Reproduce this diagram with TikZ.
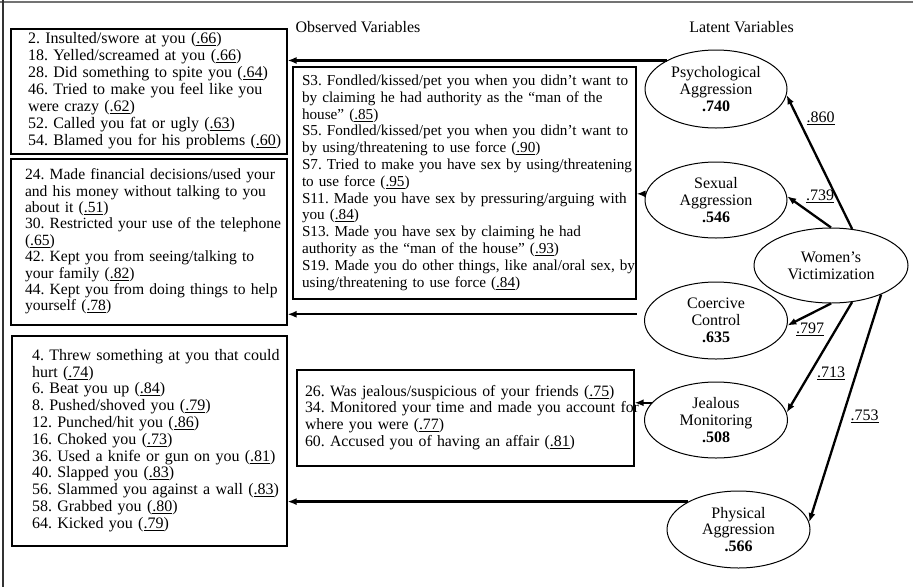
\documentclass[tikz,border=0pt]{standalone}
\usepackage{fontspec}
\setmainfont{Liberation Serif}
\usetikzlibrary{shapes.geometric,arrows.meta}
\frenchspacing

\newcommand{\ldg}[1]{(\underline{#1})}

\tikzset{
  estilo sem/.style={
      x=1pt, y=-1pt,
      obsbox/.style={rectangle, draw, line width=1.1pt, align=left, inner ysep=0pt},
      latente/.style={ellipse, draw, line width=1pt, inner sep=0pt, align=center},
      carga/.style={-{Latex[length=9pt,width=7pt]}, line width=2.3pt},
      every node/.style={font={\fontsize{16}{16.8}\selectfont}},
    },
}

\begin{document}
\begin{tikzpicture}[estilo sem]
  \useasboundingbox (0,0) rectangle (913,587);
  \draw[black!55, line width=2pt] (0,2) -- (913,2);
  \draw[black!80, line width=1.5pt] (3,0) -- (3,587);

  \node (obs) at (358,27) {Observed Variables};
  \node (lat) at (741.5,27) {Latent Variables};

  \node[latente, minimum width=142pt, minimum height=78pt] (psy) at (716,89) {Psychological\\Aggression\\\textbf{.740}};
  \node[latente, minimum width=142pt, minimum height=76pt] (sex) at (716,200) {Sexual\\Aggression\\\textbf{.546}};
  \node[latente, minimum width=154pt, minimum height=75pt] (vic) at (831,265.5) {Women’s\\Victimization};
  \node[latente, minimum width=143pt, minimum height=77pt] (coe) at (716,320.5) {Coercive\\Control\\\textbf{.635}};
  \node[latente, minimum width=143pt, minimum height=76pt] (jea) at (716,420) {Jealous\\Monitoring\\\textbf{.508}};
  \node[latente, minimum width=143pt, minimum height=77pt] (phy) at (738.5,529.5) {Physical\\Aggression\\\textbf{.566}};

  \node[obsbox, minimum height=125pt, text width=242pt, inner xsep=17pt, font={\fontsize{16}{17}\selectfont}] (psybox) at (149,91.5) {\noindent\begin{tabular}{@{}l@{}}
    2. Insulted/swore at you \ldg{.66}\\
    18. Yelled/screamed at you \ldg{.66}\\
    28. Did something to spite you \ldg{.64}\\
    46. Tried to make you feel like you\\
    were crazy \ldg{.62}\\
    52. Called you fat or ugly \ldg{.63}\\
    54. Blamed you for his problems \ldg{.60}
  \end{tabular}};
  \node[obsbox, minimum height=166pt, text width=248pt, inner xsep=14pt, font={\fontsize{15.6}{16.4}\selectfont}] (coebox) at (149,242) {\noindent\begin{tabular}{@{}l@{}}
    24. Made financial decisions/used your\\
    and his money without talking to you\\
    about it \ldg{.51}\\
    30. Restricted your use of the telephone\\
    \ldg{.65}\\
    42. Kept you from seeing/talking to\\
    your family \ldg{.82}\\
    44. Kept you from doing things to help\\
    yourself \ldg{.78}
  \end{tabular}};
  \node[obsbox, minimum height=210pt, text width=235pt, inner xsep=20pt] (phybox) at (149.5,441) {\noindent\begin{tabular}{@{}l@{}}
    4. Threw something at you that could\\
    hurt \ldg{.74}\\
    6. Beat you up \ldg{.84}\\
    8. Pushed/shoved you \ldg{.79}\\
    12. Punched/hit you \ldg{.86}\\
    16. Choked you \ldg{.73}\\
    36. Used a knife or gun on you \ldg{.81}\\
    40. Slapped you \ldg{.83}\\
    56. Slammed you against a wall \ldg{.83}\\
    58. Grabbed you \ldg{.80}\\
    64. Kicked you \ldg{.79}
  \end{tabular}};
  \node[obsbox, minimum height=232pt, text width=325pt, inner xsep=9pt, font={\fontsize{15.2}{16.8}\selectfont}] (sexbox) at (464.5,183) {\noindent\begin{tabular}{@{}l@{}}
    S3. Fondled/kissed/pet you when you didn’t want to\\
    by claiming he had authority as the “man of the\\
    house” \ldg{.85}\\
    S5. Fondled/kissed/pet you when you didn’t want to\\
    by using/threatening to use force \ldg{.90}\\
    S7. Tried to make you have sex by using/threatening\\
    to use force \ldg{.95}\\
    S11. Made you have sex by pressuring/arguing with\\
    you \ldg{.84}\\
    S13. Made you have sex by claiming he had\\
    authority as the “man of the house” \ldg{.93}\\
    S19. Made you do other things, like anal/oral sex, by\\
    using/threatening to use force \ldg{.84}
  \end{tabular}};
  \node[obsbox, minimum height=96pt, text width=321pt, inner xsep=8pt, font={\fontsize{15.8}{16.8}\selectfont}] (jeabox) at (465.5,418) {\noindent\begin{tabular}{@{}l@{}}
    26. Was jealous/suspicious of your friends \ldg{.75}\\
    34. Monitored your time and made you account for\\
    where you were \ldg{.77}\\
    60. Accused you of having an affair \ldg{.81}
  \end{tabular}};

  \draw[carga] (psy.150) -- (psy.150 -| psybox.east);
  \draw[carga] (sex.175) -- (sex.175 -| sexbox.east);
  \draw[carga] ([xshift=-8pt]coe.175) -- (coe.175 -| coebox.east);
  \draw[carga] (jea.165) -- (jea.165 -| jeabox.east);
  \draw[carga] (phy.151) -- (phy.151 -| phybox.east);

  \draw[carga] (vic.60) -- (psy.-5);
  \draw[carga] (vic.north) -- (sex.3);
  \draw[carga] (vic.south) -- (coe.-4);
  \draw[carga] (vic.300) -- (jea.6);
  \draw[carga] (vic.330) -- (phy.6);

  \node (c860) at (820.5,118) {\underline{.860}};
  \node (c739) at (820,196) {\underline{.739}};
  \node (c797) at (810,329) {\underline{.797}};
  \node (c713) at (831,373) {\underline{.713}};
  \node (c753) at (864.5,416) {\underline{.753}};
\end{tikzpicture}
\end{document}
